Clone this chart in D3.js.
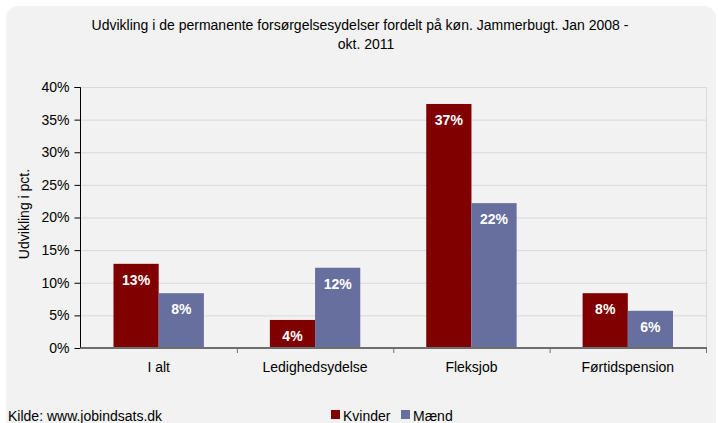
<!DOCTYPE html>
<html lang="da">
<head>
<meta charset="UTF-8">
<title>Udvikling i de permanente forsørgelsesydelser</title>
<script src="https://d3js.org/d3.v7.min.js"></script>
<style>
    body { margin: 0; padding: 0; background: #ffffff; }
    svg { display: block; font-family: 'Liberation Sans', Arial, sans-serif; }
</style>
</head>
<body>
<div id="chart"></div>
<script>
    const categories = ["I alt", "Ledighedsydelse", "Fleksjob", "Førtidspension"];
    const seriesNames = ["Kvinder", "Mænd"];
    const kvinder = [12.9, 4.3, 37.4, 8.4];
    const maend = [8.4, 12.3, 22.2, 5.7];
    const yTicks = [0, 5, 10, 15, 20, 25, 30, 35, 40];
    const colors = ["#800000", "#666f9d"];

    const width = 718, height = 423;
    const plot = { left: 80.5, right: 706, top: 87, bottom: 348 };

    const svg = d3.select("#chart").append("svg")
        .attr("width", width)
        .attr("height", height);

    // background panel with rounded corners
    svg.append("rect")
        .attr("x", 6).attr("y", 6)
        .attr("width", 710).attr("height", 440)
        .attr("rx", 12)
        .attr("fill", "#f1f2f1");

    const x = d3.scaleBand()
        .domain(categories)
        .range([plot.left, plot.right])
        .padding(0);

    const x1 = d3.scaleBand()
        .domain(seriesNames)
        .range([0, x.bandwidth()])
        .paddingInner(0)
        .paddingOuter(0.73);

    const y = d3.scaleLinear()
        .domain([0, 40])
        .range([plot.bottom, plot.top]);

    // gridlines
    svg.append("g")
        .selectAll("line")
        .data(yTicks.filter(d => d > 0))
        .enter().append("line")
        .attr("x1", plot.left).attr("x2", plot.right)
        .attr("y1", d => y(d) + 0.5).attr("y2", d => y(d) + 0.5)
        .attr("stroke", "#d9d9d9")
        .attr("stroke-width", 1);

    // right border of plot area
    svg.append("line")
        .attr("x1", plot.right + 0.5).attr("x2", plot.right + 0.5)
        .attr("y1", plot.top).attr("y2", plot.bottom)
        .attr("stroke", "#d9d9d9");

    // bars
    const rows = categories.map((c, i) => ({ cat: c, values: [kvinder[i], maend[i]] }));

    const group = svg.append("g")
        .selectAll("g")
        .data(rows)
        .enter().append("g")
        .attr("transform", d => `translate(${x(d.cat)},0)`);

    const bar = group.selectAll("g")
        .data(d => d.values.map((v, j) => ({ name: seriesNames[j], value: v, j: j })))
        .enter().append("g");

    bar.append("rect")
        .attr("x", d => x1(d.name))
        .attr("y", d => y(d.value))
        .attr("width", x1.bandwidth())
        .attr("height", d => y(0) - y(d.value))
        .attr("fill", d => colors[d.j]);

    bar.append("text")
        .attr("x", d => x1(d.name) + x1.bandwidth() / 2)
        .attr("y", d => y(d.value) + 21)
        .attr("text-anchor", "middle")
        .attr("fill", "#ffffff")
        .attr("font-size", 14)
        .attr("font-weight", "bold")
        .text(d => d3.format(".0f")(d.value) + "%");

    // y axis
    const yAxis = svg.append("g")
        .attr("transform", `translate(${plot.left},0)`)
        .call(d3.axisLeft(y).tickValues(yTicks).tickSize(6).tickPadding(5).tickFormat(d => d + "%"));
    yAxis.select(".domain").attr("stroke", "#000000").attr("d", `M-6,${plot.top + 0.5}H0V${plot.bottom}`);
    yAxis.selectAll(".tick line").attr("stroke", "#000000");
    yAxis.selectAll(".tick text").attr("font-size", 14).attr("fill", "#000000");
    yAxis.attr("font-family", null);

    // x axis
    const xAxis = svg.append("g")
        .attr("transform", `translate(0,${plot.bottom})`)
        .call(d3.axisBottom(x).tickSize(0).tickPadding(14));
    xAxis.select(".domain").attr("stroke", "#6e6e6e").attr("stroke-width", 2)
        .attr("d", `M${plot.left},0H${plot.right + 1}`);
    xAxis.selectAll(".tick text").attr("font-size", 14).attr("fill", "#000000");
    xAxis.attr("font-family", null);

    // x tick marks at category boundaries
    const bounds = categories.slice(1).map(c => x(c)).concat([plot.right]);
    xAxis.selectAll(".bound")
        .data(bounds)
        .enter().append("line")
        .attr("class", "bound")
        .attr("x1", d => d + 0.5).attr("x2", d => d + 0.5)
        .attr("y1", 0).attr("y2", 5)
        .attr("stroke", "#6e6e6e");

    // title
    const title = svg.append("text")
        .attr("text-anchor", "middle")
        .attr("font-size", 14)
        .attr("fill", "#000000");
    title.append("tspan").attr("x", 360).attr("y", 30)
        .text("Udvikling i de permanente forsørgelsesydelser fordelt på køn. Jammerbugt. Jan 2008 -");
    title.append("tspan").attr("x", 366).attr("y", 49).text("okt. 2011");

    // y axis title
    svg.append("text")
        .attr("transform", "translate(29,214) rotate(-90)")
        .attr("text-anchor", "middle")
        .attr("font-size", 14)
        .attr("fill", "#000000")
        .text("Udvikling i pct.");

    // source
    svg.append("text")
        .attr("x", 8).attr("y", 421)
        .attr("font-size", 14)
        .attr("fill", "#000000")
        .text("Kilde: www.jobindsats.dk");

    // legend
    const legendX = [331, 401];
    const legend = svg.append("g")
        .selectAll("g")
        .data(seriesNames)
        .enter().append("g")
        .attr("transform", (d, i) => `translate(${legendX[i]},410)`);
    legend.append("rect")
        .attr("width", 9).attr("height", 9)
        .attr("fill", (d, i) => colors[i]);
    legend.append("text")
        .attr("x", 12).attr("y", 11)
        .attr("font-size", 14)
        .attr("fill", "#000000")
        .text(d => d);
</script>
</body>
</html>
